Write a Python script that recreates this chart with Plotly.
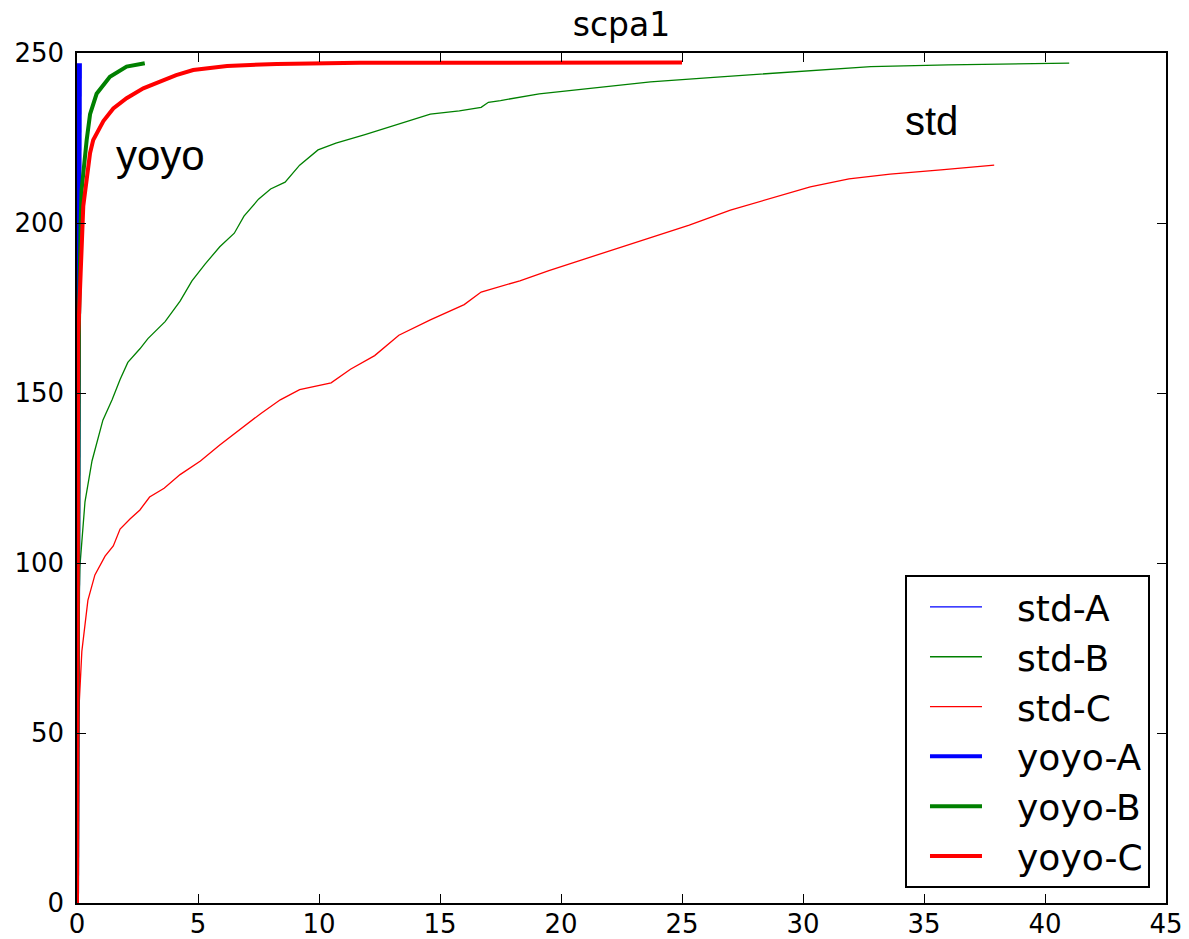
import plotly.graph_objects as go

# ---- data ----
std_a_x = [0, 0.01, 0.02]
std_a_y = [0, 150, 247]

std_b_x = [0, 0.03, 0.12, 0.33, 0.62, 0.83, 1.07, 1.45, 1.78, 2.1, 2.6, 2.93, 3.64, 4.26, 4.75,
           5.3, 5.9, 6.5, 6.9, 7.5, 8.0, 8.6, 9.2, 9.96, 10.7, 11.9, 13.3, 14.6, 15.8, 16.7,
           17.0, 17.5, 19.1, 21.6, 23.7, 26.6, 29.9, 32.8, 36, 41]
std_b_y = [0, 70, 99, 118, 130, 136, 142, 148, 154, 159, 163, 166, 171, 177, 183,
           188, 193, 197, 202, 207, 210, 212, 217, 221.5, 223.5, 226, 229, 232, 233, 234,
           235.5, 236, 238, 240, 241.5, 243, 244.5, 246, 246.5, 247]

std_c_x = [0, 0.03, 0.2, 0.45, 0.74, 1.16, 1.5, 1.78, 2.2, 2.6, 3.0, 3.6, 4.26, 5.1, 5.9,
           6.7, 7.6, 8.4, 9.2, 10.5, 11.3, 12.3, 13.3, 14.6, 16.0, 16.7, 18.3, 19.5, 20.8,
           22.4, 23.7, 25.3, 27.0, 28.6, 30.3, 31.9, 33.6, 35.7, 37.9]
std_c_y = [0, 50, 74, 89, 96.5, 102, 105, 110, 113, 115.6, 119.4, 122, 126, 130, 134.7,
           139, 144, 148, 151, 153, 157, 161, 167, 171.5, 176, 179.7, 183, 186, 189,
           192.6, 195.6, 199.4, 203.8, 207, 210.6, 213, 214.4, 215.6, 217]

yoyo_a_x = [0, 0.04, 0.08, 0.1, 0.12]
yoyo_a_y = [0, 100, 200, 240, 247]

yoyo_b_x = [0, 0.03, 0.08, 0.15, 0.19, 0.4, 0.54, 0.81, 1.36, 2.05, 2.8]
yoyo_b_y = [0, 100, 170, 200, 209.7, 224.4, 232, 238, 243, 246, 247]

yoyo_c_x = [0, 0.02, 0.03, 0.04, 0.05, 0.15, 0.26, 0.54, 0.67, 1.09, 1.5, 2.05, 2.74,
            3.43, 4.1, 4.8, 6.2, 8.25, 11.7, 25]
yoyo_c_y = [0, 50, 100, 140, 167, 185, 205, 220.6, 224.4, 230, 233.7, 236.7, 239.6,
            241.6, 243.5, 245, 246.2, 246.8, 247.1, 247.2]

x_ticks = [0, 5, 10, 15, 20, 25, 30, 35, 40, 45]
y_ticks = [0, 50, 100, 150, 200, 250]

series_names = ["std-A", "std-B", "std-C", "yoyo-A", "yoyo-B", "yoyo-C"]

series = [
    (series_names[0], std_a_x, std_a_y, "#0000ff", 1.3),
    (series_names[1], std_b_x, std_b_y, "#008000", 1.3),
    (series_names[2], std_c_x, std_c_y, "#ff0000", 1.3),
    (series_names[3], yoyo_a_x, yoyo_a_y, "#0000ff", 4),
    (series_names[4], yoyo_b_x, yoyo_b_y, "#008000", 4),
    (series_names[5], yoyo_c_x, yoyo_c_y, "#ff0000", 4),
]

GAP = "\u00a0\u00a0\u2009"  # spacing between legend line sample and its label

fig = go.Figure()
for name, xs, ys, color, w in series:
    fig.add_trace(go.Scatter(x=xs, y=ys, mode="lines", name=GAP + name, legendgroup=name,
                             line=dict(color=color, width=w)))

axis_common = dict(showline=True, linecolor="black", linewidth=1.5, mirror="ticks",
                   ticks="inside", ticklen=9, tickcolor="black", tickwidth=1,
                   showgrid=False, zeroline=False, automargin=False,
                   tickfont=dict(family="DejaVu Sans", size=26, color="black"))

fig.update_layout(
    width=1189, height=939,
    margin=dict(l=77, r=23, t=53, b=36, autoexpand=False),
    paper_bgcolor="white", plot_bgcolor="white",
    title=dict(text="scpa1", x=0.5, xref="paper", xanchor="center",
               y=1, yref="paper", yanchor="bottom", pad=dict(b=17), automargin=False,
               font=dict(family="DejaVu Sans", size=33, color="black")),
    xaxis=dict(range=[0, 45], tickvals=x_ticks, ticktext=[str(v) for v in x_ticks],
               ticklabelstandoff=-3, **axis_common),
    yaxis=dict(range=[0, 250], tickvals=y_ticks, ticktext=[str(v) for v in y_ticks],
               ticklabelstandoff=6, **axis_common),
    legend=dict(x=0.9853, y=0.0176, xanchor="right", yanchor="bottom",
                bordercolor="black", borderwidth=2, bgcolor="white",
                font=dict(family="DejaVu Sans", size=36, color="black"),
                tracegroupgap=0, itemwidth=52, indentation=18),
    showlegend=True,
    annotations=[
        dict(text="yoyo", x=3.43, y=220.0, xref="x", yref="y", showarrow=False,
             font=dict(family="Liberation Sans", size=42, color="black")),
        dict(text="std", x=35.3, y=230.0, xref="x", yref="y", showarrow=False,
             font=dict(family="Liberation Sans", size=40, color="black")),
    ],
)

fig.write_html("out.html", config={"displayModeBar": False},
               post_script="document.body.style.margin='0';document.body.style.overflow='hidden';")
